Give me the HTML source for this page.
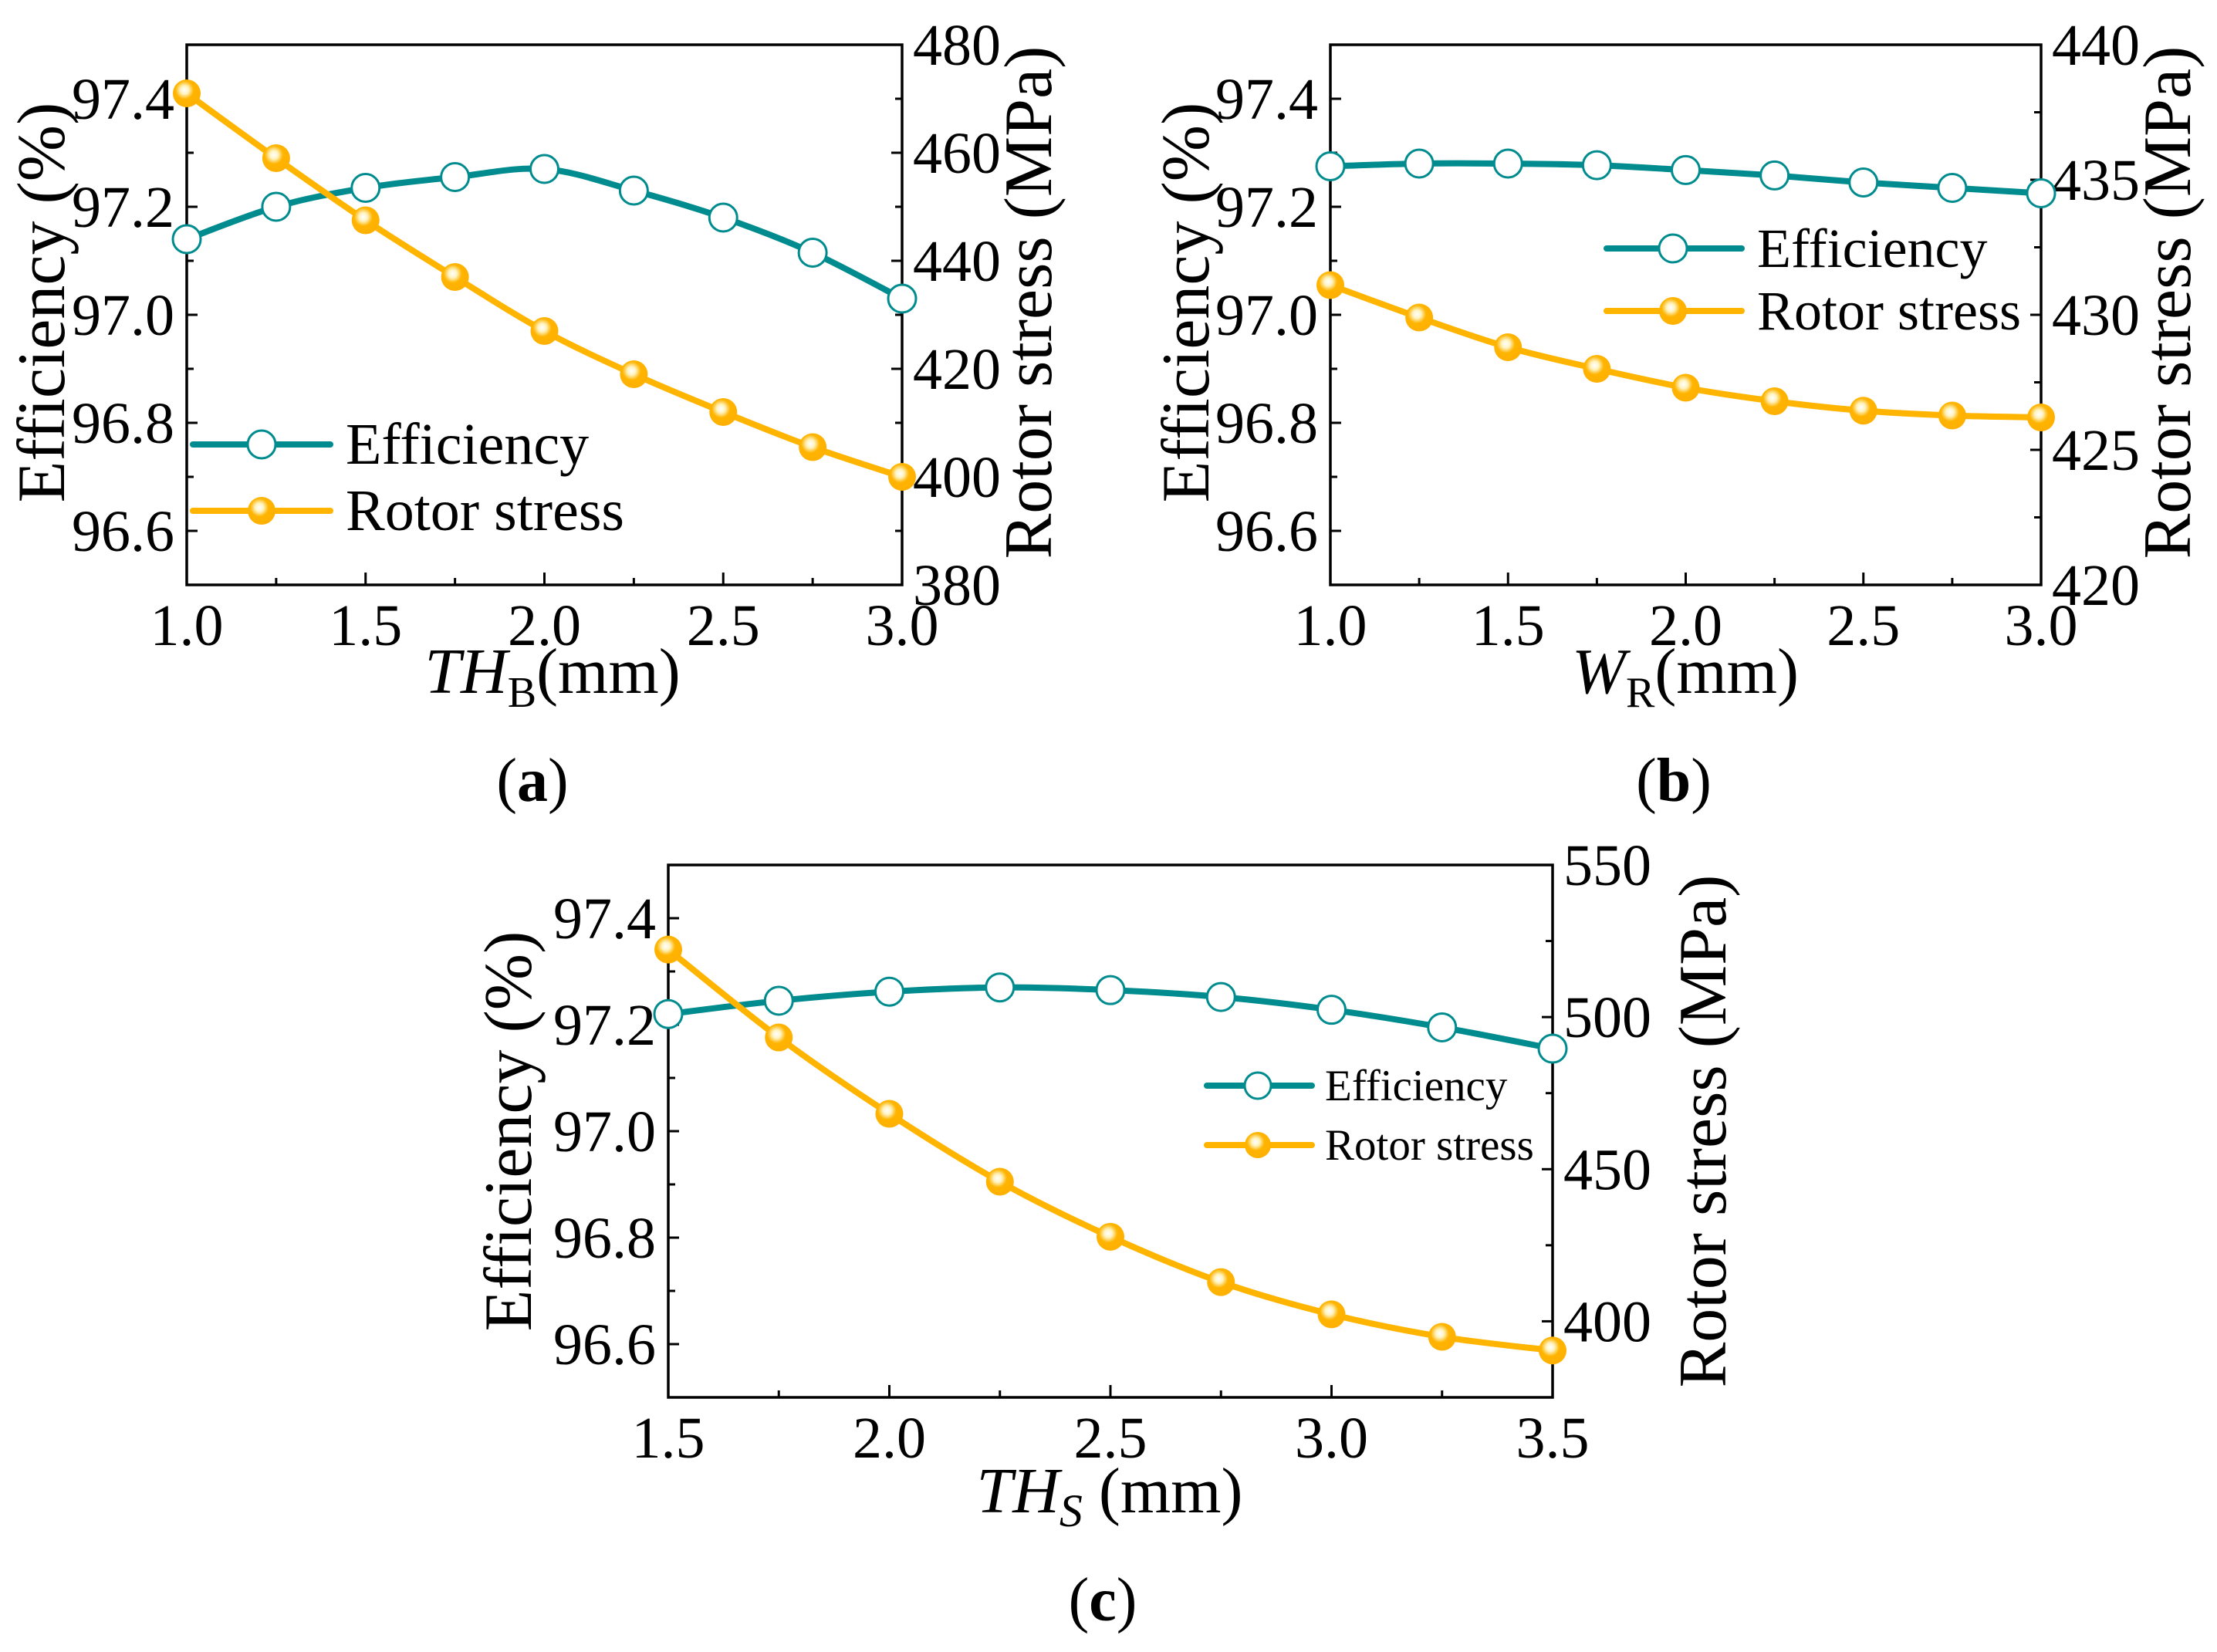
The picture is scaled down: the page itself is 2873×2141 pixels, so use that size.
<!DOCTYPE html>
<html><head><meta charset="utf-8">
<style>
html,body{margin:0;padding:0;background:#fff;}
svg{display:block;font-family:"Liberation Serif","Times New Roman",serif;}
</style></head>
<body>
<svg id="fig" width="2873" height="2141" viewBox="0 0 2873 2141" xmlns="http://www.w3.org/2000/svg">
<defs>
<radialGradient id="shine" cx="0.42" cy="0.38" r="0.6">
<stop offset="0" stop-color="#ffffff"/>
<stop offset="0.25" stop-color="#fff3c0"/>
<stop offset="0.55" stop-color="#ffb400"/>
<stop offset="1" stop-color="#ffb000"/>
</radialGradient>
</defs>
</svg>
<script>
// ---- Panel (a) data ----
const xA = [1.0,1.25,1.5,1.75,2.0,2.25,2.5,2.75,3.0];
const effA = [97.14,97.20,97.235,97.255,97.27,97.23,97.18,97.115,97.03];
const stressA = [471,459,447.5,437,427,419,412,405.5,400];
const xTicksA = [1.0,1.5,2.0,2.5,3.0];
const rTicksA = [380,400,420,440,460,480];
// ---- Panel (b) data ----
const xB = [1.0,1.25,1.5,1.75,2.0,2.25,2.5,2.75,3.0];
const effB = [97.275,97.28,97.28,97.277,97.268,97.258,97.245,97.235,97.225];
const stressB = [431.1,429.9,428.8,428.0,427.3,426.8,426.45,426.27,426.2];
const xTicksB = [1.0,1.5,2.0,2.5,3.0];
const rTicksB = [420,425,430,435,440];
// ---- Panel (c) data ----
const xC = [1.5,1.75,2.0,2.25,2.5,2.75,3.0,3.25,3.5];
const effC = [97.22,97.245,97.262,97.27,97.265,97.252,97.228,97.195,97.155];
const stressC = [522.2,493.3,468.2,445.9,427.8,412.9,402.3,394.9,390.4];
const xTicksC = [1.5,2.0,2.5,3.0,3.5];
const rTicksC = [400,450,500,550];
const lTicks = [96.6,96.8,97.0,97.2,97.4];

const NS = "http://www.w3.org/2000/svg";
const svg = document.getElementById('fig');
const TEAL = "#008c8f", ORANGE = "#ffb400";
function mk(tag, attrs, parent){
  const e = document.createElementNS(NS, tag);
  for (const k in attrs) e.setAttribute(k, attrs[k]);
  (parent||svg).appendChild(e); return e;
}
function smooth(pts){
  let d = "M"+pts[0][0]+","+pts[0][1];
  for (let i=0;i<pts.length-1;i++){
    const p0=pts[i-1]||pts[i], p1=pts[i], p2=pts[i+1], p3=pts[i+2]||pts[i+1];
    const c1x=p1[0]+(p2[0]-p0[0])/6, c1y=p1[1]+(p2[1]-p0[1])/6;
    const c2x=p2[0]-(p3[0]-p1[0])/6, c2y=p2[1]-(p3[1]-p1[1])/6;
    d+=" C"+c1x+","+c1y+" "+c2x+","+c2y+" "+p2[0]+","+p2[1];
  }
  return d;
}
function fmt(v,dec){return v.toFixed(dec);}

function panel(cfg){
  const g = mk('g',{});
  
  
  const {L,R,T,B} = cfg;
  const sx = v => L + (v-cfg.xmin)/(cfg.xmax-cfg.xmin)*(R-L);
  const sy = v => B - (v-96.5)/(1.0)*(B-T);
  const sr = v => B - (v-cfg.rmin)/(cfg.rmax-cfg.rmin)*(B-T);
  // frame
  const fr = mk('rect',{x:L,y:T,width:R-L,height:B-T,fill:'none',stroke:'#000','stroke-width':3.5},g);
  
  
  // left ticks major+minor
  for (let v=96.6; v<97.45; v+=0.1){
    const y=sy(v); const major = Math.abs(Math.round(v*10)%2)===0;
    mk('line',{x1:L,x2:L+(major?14:9),y1:y,y2:y,stroke:'#000','stroke-width':3},g);
  }
  lTicks.forEach(v=>{
    const t=mk('text',{x:L-16,y:sy(v)+26,'text-anchor':'end','font-size':76},g);
    t.textContent=fmt(v,1);
    
    
  });
  // right ticks
  const rstep = cfg.rTicks[1]-cfg.rTicks[0];
  for (let v=cfg.rTicks[0]; v<=cfg.rmax+1e-6; v+=rstep/2){
    if (v<cfg.rmin) continue;
    const y=sr(v); const major = cfg.rTicks.some(t=>Math.abs(t-v)<1e-6);
    mk('line',{x1:R,x2:R-(major?14:9),y1:y,y2:y,stroke:'#000','stroke-width':3},g);
  }
  cfg.rTicks.forEach(v=>{
    const t=mk('text',{x:R+14,y:sr(v)+26,'font-size':76},g);
    t.textContent=String(v);
    
    
  });
  // bottom ticks
  for (let v=cfg.xmin; v<=cfg.xmax+1e-6; v+=0.25){
    const major = cfg.xTicks.some(t=>Math.abs(t-v)<1e-6);
    mk('line',{x1:sx(v),x2:sx(v),y1:B,y2:B-(major?16:9),stroke:'#000','stroke-width':3},g);
  }
  cfg.xTicks.forEach(v=>{
    const t=mk('text',{x:sx(v),y:B+78,'text-anchor':'middle','font-size':76},g);
    t.textContent=fmt(v,1);
    
    
  });
  // series
  const ep = cfg.x.map((x,i)=>[sx(x),sy(cfg.eff[i])]);
  const rp = cfg.x.map((x,i)=>[sx(x),sr(cfg.stress[i])]);
  const el = mk('path',{d:smooth(ep),fill:'none',stroke:TEAL,'stroke-width':8},g);
  
  
  const rl = mk('path',{d:smooth(rp),fill:'none',stroke:ORANGE,'stroke-width':8},g);
  
  
  ep.forEach(p=>{
    const c=mk('circle',{cx:p[0],cy:p[1],r:18,fill:'#fff',stroke:TEAL,'stroke-width':3},g);
    
    
  });
  rp.forEach(p=>{
    const c=mk('circle',{cx:p[0],cy:p[1],r:18,fill:'url(#shine)'},g);
    
    
  });
  // legend
  const lg = cfg.leg;
  const lgG = mk('g',{},g);
  
  
  [[TEAL,'Efficiency',lg.y1,false],[ORANGE,'Rotor stress',lg.y2,true]].forEach(([col,lab,y,fill])=>{
    mk('line',{x1:lg.x0,x2:lg.x1,y1:y,y2:y,stroke:col,'stroke-width':lg.sw,'stroke-linecap':'round'},lgG);
    if (fill) mk('circle',{cx:lg.mx,cy:y,r:lg.r,fill:'url(#shine)'},lgG);
    else mk('circle',{cx:lg.mx,cy:y,r:lg.r,fill:'#fff',stroke:TEAL,'stroke-width':3},lgG);
    const t=mk('text',{x:lg.tx,y:y+lg.fs*0.33,'font-size':lg.fs},lgG);
    t.textContent=lab;
    
    
  });
  // axis titles
  const lt=mk('text',{x:0,y:0,'text-anchor':'middle','font-size':88,transform:`translate(${cfg.ltx},${cfg.lty}) rotate(-90)`},g);
  lt.textContent='Efficiency (%)';
  
  
  const rt=mk('text',{x:0,y:0,'text-anchor':'middle','font-size':88,transform:`translate(${cfg.rtx},${cfg.lty}) rotate(-90)`},g);
  rt.textContent='Rotor stress (MPa)';
  
  
  const xt=mk('text',{x:cfg.xtx,y:cfg.xty,'text-anchor':'middle','font-size':84},g);
  xt.innerHTML=cfg.xtitle;
  
  
  const pl=mk('text',{x:cfg.plx,y:cfg.ply,'text-anchor':'middle','font-size':80},g);
  pl.innerHTML=cfg.plab;
  
  
}

panel({name:'panel-a',L:242,R:1169,T:58,B:758,xmin:1,xmax:3,rmin:380,rmax:480,
  x:xA,eff:effA,stress:stressA,xTicks:xTicksA,rTicks:rTicksA,
  leg:{x0:250,x1:428,mx:339,y1:576,y2:662,tx:448,fs:76,r:18,sw:8},
  ltx:83,lty:392,rtx:1362,xtx:716,xty:898,
  xtitle:'<tspan font-style="italic">TH</tspan><tspan font-size="56" dy="18">B</tspan><tspan dy="-18">(mm)</tspan>',
  plx:690,ply:1038,plab:'(<tspan font-weight="bold">a</tspan>)'});

panel({name:'panel-b',L:1724,R:2645,T:58,B:758,xmin:1,xmax:3,rmin:420,rmax:440,
  x:xB,eff:effB,stress:stressB,xTicks:xTicksB,rTicks:rTicksB,
  leg:{x0:2082,x1:2257,mx:2168,y1:322,y2:403,tx:2277,fs:72,r:18,sw:8},
  ltx:1566,lty:392,rtx:2838,xtx:2184,xty:898,
  xtitle:'<tspan font-style="italic">W</tspan><tspan font-size="56" dy="18">R</tspan><tspan dy="-18">(mm)</tspan>',
  plx:2169,ply:1038,plab:'(<tspan font-weight="bold">b</tspan>)'});

panel({name:'panel-c',L:866,R:2012,T:1121,B:1811,xmin:1.5,xmax:3.5,rmin:375,rmax:550,
  x:xC,eff:effC,stress:stressC,xTicks:xTicksC,rTicks:rTicksC,
  leg:{x0:1564,x1:1700,mx:1630,y1:1407,y2:1484,tx:1717,fs:57,r:17,sw:8},
  ltx:688,lty:1466,rtx:2236,xtx:1438,xty:1960,
  xtitle:'<tspan font-style="italic">TH</tspan><tspan font-size="60" font-style="italic" dy="18">S</tspan><tspan dy="-18"> (mm)</tspan>',
  plx:1429,ply:2100,plab:'(<tspan font-weight="bold">c</tspan>)'});
</script>
</body></html>
